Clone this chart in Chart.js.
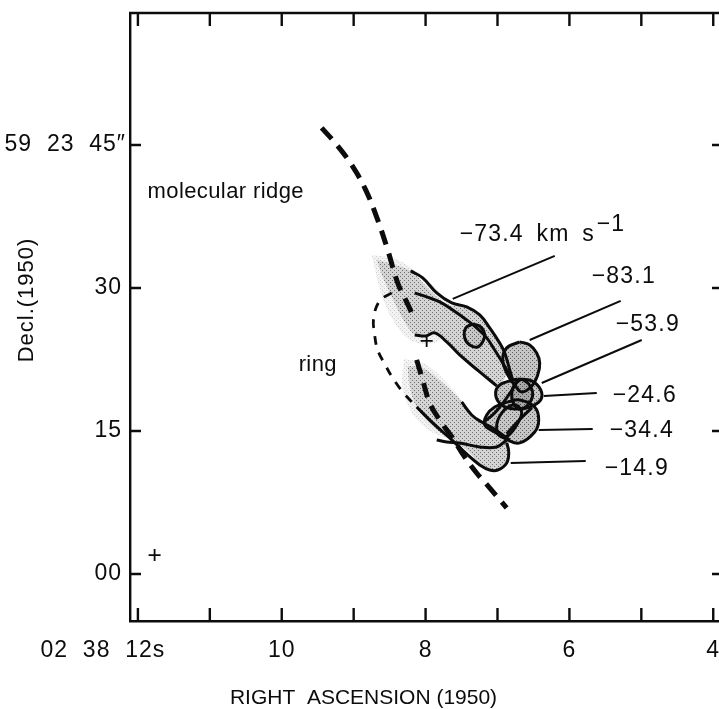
<!DOCTYPE html>
<html>
<head>
<meta charset="utf-8">
<style>html,body{margin:0;padding:0;background:#fff}canvas{display:block}</style>
<script src="https://cdn.jsdelivr.net/npm/chart.js@4/dist/chart.umd.min.js"></script>
</head>
<body>
<canvas id="c" width="719" height="709"></canvas>
<script>
// ---- axes (right ascension seconds, declination arcseconds) ----
const raTickValues = [12,11,10,9,8,7,6,5,4];
const raTickLabels = {12:"02\u00a0\u00a038\u00a0\u00a012s",10:"10",8:"8",6:"6",4:"4"};
const decTickValues = [45,30,15,0];
const decTickLabels = {45:"59\u00a0\u00a023\u00a0\u00a045\u2033",30:"30",15:"15",0:"00"};

// ---- structures: [RA seconds, Dec arcsec] ----
const ridgeUpper = [[9.445,46.80],[9.223,44.91],[9.028,42.92],[8.833,40.30],[8.666,37.15],[8.527,34.00],[8.388,30.54],[8.277,28.75],[8.165,26.97]];
const ridgeLower = [[8.124,22.46],[8.041,20.36],[7.943,17.95],[7.804,16.16],[7.624,14.27],[7.457,12.28],[7.290,10.60],[7.109,9.03],[6.873,6.93]];
const ringArc = [[8.471,29.49],[8.638,28.65],[8.722,26.87],[8.708,25.08],[8.666,23.50],[8.569,22.04],[8.458,20.57],[8.318,19.10],[8.193,18.05]];

const haloUpper = [[8.75,33.5],[8.40,33.0],[8.10,31.5],[7.80,29.5],[7.60,27.0],[7.80,24.5],[8.15,24.3],[8.40,26.0],[8.60,29.0],[8.75,33.5]];
const haloLower = [[8.30,22.6],[8.00,22.0],[7.70,20.0],[7.45,17.5],[7.40,14.5],[7.80,14.5],[8.15,16.5],[8.32,19.5],[8.30,22.6]];
const bandUpper = [[8.680,33.00],[8.207,31.80],[8.040,30.53],[7.845,29.07],[7.665,28.23],[7.428,27.91],[7.247,27.18],[7.108,25.81],[6.927,23.50],[6.872,21.09],[7.011,19.83],[7.345,21.72],[7.567,23.30],[7.734,24.77],[7.845,25.29],[8.151,25.19],[8.263,26.13],[8.402,28.02],[8.597,31.17],[8.680,33.00]];
const bandLower = [[8.249,21.83],[8.040,21.62],[7.762,20.04],[7.498,18.05],[7.359,16.48],[7.206,15.85],[7.011,15.11],[6.872,14.38],[6.830,12.28],[6.899,11.23],[7.067,10.91],[7.206,11.23],[7.386,12.70],[7.623,14.17],[7.845,15.11],[8.124,17.52],[8.221,19.73],[8.249,21.83]];

const outlineTop = [[8.207,31.80],[8.040,31.06],[7.845,29.49],[7.637,28.44],[7.428,28.02],[7.247,27.18],[7.108,25.81],[6.969,24.22],[6.899,23.19],[6.830,21.41],[6.788,20.36]];
const outlineInner = [[8.151,29.49],[7.985,29.07],[7.804,28.54],[7.623,27.70],[7.428,26.65],[7.289,25.81],[7.150,24.77],[7.039,23.50],[6.927,22.14],[6.816,20.67]];
const outlineBottom = [[8.151,25.08],[7.998,24.97],[7.873,25.29],[7.706,24.35],[7.526,22.98],[7.247,21.20],[7.011,19.73]];
const oval734 = [[7.345,26.23],[7.234,25.92],[7.178,25.08],[7.206,24.35],[7.275,23.82],[7.386,24.03],[7.456,24.77],[7.442,25.81],[7.345,26.23]];
const blob831 = [[6.691,24.35],[6.552,24.03],[6.455,23.19],[6.413,22.14],[6.441,20.88],[6.524,19.73],[6.663,19.10],[6.760,19.83],[6.858,20.88],[6.927,22.46],[6.872,23.72],[6.691,24.35]];
const ellipse539 = [[6.719,20.46],[6.524,20.25],[6.399,19.31],[6.399,18.26],[6.552,17.52],[6.760,17.31],[6.941,17.73],[7.025,18.78],[6.969,19.83],[6.719,20.46]];
const ellipse246 = [[6.663,20.46],[6.566,19.94],[6.510,18.89],[6.566,17.84],[6.677,17.31],[6.774,17.84],[6.802,18.89],[6.760,19.94],[6.663,20.46]];
const blob344 = [[6.858,18.05],[6.691,18.26],[6.483,17.52],[6.427,16.16],[6.483,14.90],[6.691,13.75],[6.858,14.06],[7.039,14.90],[7.178,15.64],[7.150,16.68],[7.039,17.52],[6.858,18.05]];
const ellipseLow = [[6.719,17.73],[6.663,16.89],[6.733,15.64],[6.858,14.48],[6.969,14.48],[7.011,15.64],[6.941,16.89],[6.830,17.63],[6.719,17.73]];
const crossBand = [[6.719,20.25],[6.872,18.47],[7.039,16.89],[7.206,15.85]];
const crossBand2 = [[6.524,17.42],[6.691,16.20],[6.872,14.70]];
const outlineLowerOuter = [[8.124,17.52],[7.901,15.85],[7.665,14.27],[7.414,12.49],[7.247,11.44],[7.108,10.91],[6.997,10.91],[6.872,11.65],[6.844,12.80],[6.872,13.75]];
const outlineLowerInner = [[7.845,14.06],[7.706,13.85],[7.526,13.75],[7.247,13.33],[7.011,13.33],[6.872,14.06]];
const outlineLowerUpper = [[7.498,18.05],[7.359,16.68],[7.220,15.95],[7.067,15.32],[6.927,14.59],[6.830,14.06]];

// leader lines from each velocity label to its contour
const leader734 = [[6.204,33.37],[7.623,28.86]];
const leader831 = [[5.287,28.65],[6.552,24.55]];
const leader539 = [[4.994,24.55],[6.385,20.04]];
const leader246 = [[5.620,18.99],[6.357,18.68]];
const leader344 = [[5.676,15.22],[6.427,15.11]];
const leader149 = [[5.773,11.86],[6.816,11.65]];

const crossMarks = [[7.985,24.45],[11.768,1.99]];

// text annotations
const noteTexts = ["\u221273.4\u2002km\u2002s","\u22121","\u221283.1","\u221253.9","\u221224.6","\u221234.4","\u221214.9","molecular ridge","ring"];
const noteRA  = [7.526,5.62,5.690,5.356,5.398,5.440,5.509,11.866,9.765];
const noteDec = [35.65,36.6,31.15,26.2,18.75,15.0,11.0,40.05,21.95];

const FONT = '"Liberation Sans", Arial, sans-serif';
const INK = '#0c0c0c';
const xy = a => a.map(p => ({x:p[0], y:p[1]}));

const patternCtx = document.createElement('canvas').getContext('2d');
function stipple(bg, dot){
  const c = document.createElement('canvas'); c.width = 4; c.height = 4;
  const g = c.getContext('2d');
  g.fillStyle = bg; g.fillRect(0,0,4,4);
  g.fillStyle = dot; g.fillRect(0,0,1,1); g.fillRect(2,2,1,1);
  return patternCtx.createPattern(c,'repeat');
}
const fillDs = (pts, bg) => ({data:xy(pts), showLine:true, fill:'shape', backgroundColor:bg, borderColor:'rgba(0,0,0,0)', borderWidth:0, pointRadius:0, tension:0.35});
const lineDs = (pts, w=3, dash=[], tension=0.4) => ({data:xy(pts), showLine:true, fill:false, borderColor:INK, borderWidth:w, borderDash:dash, pointRadius:0, tension});

const lightDot = stipple('#d4d4d4','#707070');
const midDot = stipple('#c6c6c6','#5f5f5f');
const darkDot = stipple('#a8a8a8','#484848');
const haloDot = stipple('#f2f2f2','#cfcfcf');

const datasets = [
  fillDs(haloUpper,haloDot),
  fillDs(haloLower,haloDot),
  fillDs(bandUpper,lightDot),
  fillDs(bandLower,lightDot),
  fillDs(blob831,midDot),
  fillDs(blob344,midDot),
  fillDs(ellipse539,midDot),
  fillDs(ellipse246,darkDot),
  fillDs(ellipseLow,midDot),
  fillDs(oval734,midDot),
  lineDs(ridgeUpper,5,[15,9]),
  lineDs(ridgeLower,5,[15,9]),
  lineDs(ringArc,2.8,[9,8]),
  lineDs(outlineTop), lineDs(outlineInner), lineDs(outlineBottom),
  lineDs(oval734), lineDs(blob831), lineDs(ellipse539), lineDs(ellipse246),
  lineDs(blob344), lineDs(ellipseLow), lineDs(crossBand), lineDs(crossBand2),
  lineDs(outlineLowerOuter), lineDs(outlineLowerInner), lineDs(outlineLowerUpper),
  lineDs(leader734,2,[],0), lineDs(leader831,2,[],0), lineDs(leader539,2,[],0),
  lineDs(leader246,2,[],0), lineDs(leader344,2,[],0), lineDs(leader149,2,[],0),
  {data:xy(crossMarks), showLine:false, pointStyle:'cross', pointRadius:6, pointBorderColor:INK, pointBorderWidth:1.8, pointBackgroundColor:INK}
];
datasets.forEach((d,i)=>{ d.order = datasets.length - i; });

const framePlugin = {
  id:'frame',
  beforeLayout(chart){ chart.ctx.letterSpacing = '1px'; },
  afterLayout(chart){
    const sx = chart.scales.x, sy = chart.scales.y;
    const items = sx.getLabelItems(chart.chartArea);
    const first = items.find(it => it.label === raTickLabels[12]);
    if(first) first.options.translation[0] -= 35;
    const yItems = sy.getLabelItems(chart.chartArea);
    const topY = yItems.find(it => it.label === decTickLabels[45]);
    if(topY) topY.options.translation[0] += 4;
    if(!sx._shifted){
      sx._shifted = true;
      const ox = sx.drawTitle, oy = sy.drawTitle;
      sx.drawTitle = function(a){ const c=this.ctx; c.save(); c.letterSpacing='0px'; c.translate(-61,2); ox.call(this,a); c.restore(); };
      sy.drawTitle = function(a){ const c=this.ctx; c.save(); c.letterSpacing='1px'; c.translate(0,-17); oy.call(this,a); c.restore(); };
    }
  },
  afterDraw(chart){
    const {ctx, chartArea:a} = chart, sx = chart.scales.x, sy = chart.scales.y;
    ctx.save();
    ctx.strokeStyle = INK; ctx.lineWidth = 2.4;
    ctx.beginPath(); ctx.moveTo(a.left-1,a.top); ctx.lineTo(a.right,a.top);
    raTickValues.forEach(v=>{
      const p = sx.getPixelForValue(v);
      ctx.moveTo(p,a.bottom); ctx.lineTo(p,a.bottom-13);
      ctx.moveTo(p,a.top); ctx.lineTo(p,a.top+13);
    });
    decTickValues.forEach(v=>{
      const p = sy.getPixelForValue(v);
      ctx.moveTo(a.left,p); ctx.lineTo(a.left+11,p);
      ctx.moveTo(a.right,p); ctx.lineTo(a.right-7,p);
    });
    ctx.stroke();
    ctx.fillStyle = INK; ctx.textBaseline = 'middle'; ctx.textAlign = 'left';
    noteTexts.forEach((t,i)=>{
      const isVelocity = t[0] === '\u2212';
      ctx.font = (isVelocity ? '23px ' : '22px ') + FONT;
      ctx.letterSpacing = isVelocity ? '1.2px' : '0.4px';
      ctx.fillText(t, sx.getPixelForValue(noteRA[i]), sy.getPixelForValue(noteDec[i]));
    });
    ctx.restore();
  }
};

new Chart(document.getElementById('c'),{
  type:'scatter',
  data:{datasets},
  plugins:[framePlugin],
  options:{
    responsive:false, animation:false,
    layout:{autoPadding:false,padding:{top:13,right:0,left:0,bottom:0}},
    plugins:{legend:{display:false},tooltip:{enabled:false},title:{display:false}},
    scales:{
      x:{
        type:'linear', reverse:true, min:3.92, max:12.11,
        grid:{display:false,drawTicks:false},
        border:{display:true,color:INK,width:2.4},
        afterBuildTicks:s=>{ s.ticks = Object.keys(raTickLabels).map(v=>({value:+v})); },
        afterFit:s=>{ s.height = 88; s.paddingLeft = 0; s.paddingRight = 0; },
        ticks:{autoSkip:false,maxRotation:0,minRotation:0,padding:16,color:INK,font:{family:FONT,size:23},callback:v=>raTickLabels[v]},
        title:{display:true,text:'RIGHT  ASCENSION (1950)',color:INK,font:{family:FONT,size:21},padding:{top:0,bottom:0}}
      },
      y:{
        type:'linear', min:-4.93, max:58.85,
        grid:{display:false,drawTicks:false},
        border:{display:true,color:INK,width:2.4},
        afterBuildTicks:s=>{ s.ticks = decTickValues.map(v=>({value:v})); },
        afterFit:s=>{ s.width = 130; s.paddingTop = 0; s.paddingBottom = 0; },
        ticks:{autoSkip:false,padding:8,color:INK,font:{family:FONT,size:23},callback:v=>decTickLabels[v]},
        title:{display:true,text:'Decl.(1950)',color:INK,font:{family:FONT,size:22},padding:{top:14,bottom:0}}
      }
    }
  }
});
</script>
</body>
</html>
